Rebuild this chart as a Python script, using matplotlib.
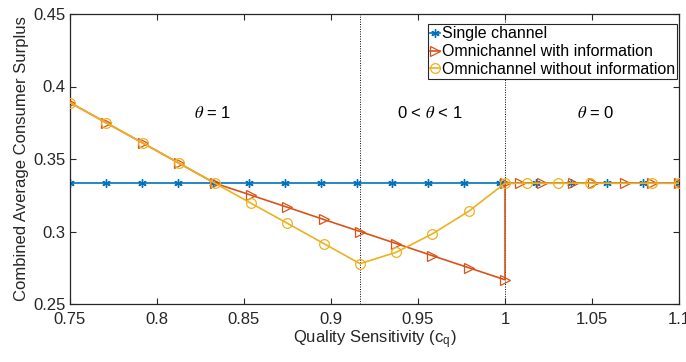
import matplotlib
matplotlib.use("Agg")
import matplotlib.pyplot as plt

plt.rcParams['font.family'] = ['Liberation Sans', 'DejaVu Sans']
plt.rcParams['mathtext.fontset'] = 'stix'

# ---- data ----
x_single = [0.75, 0.7706, 0.7912, 0.8118, 0.8324, 0.8529, 0.8735, 0.8941, 0.9147,
            0.9353, 0.9559, 0.9765, 0.9971, 1.0176, 1.0382, 1.0588, 1.0794, 1.1]
y_single = [0.3333] * 18

x_with = [0.75, 0.7708, 0.7917, 0.8125, 0.8333, 0.8542, 0.875, 0.8958, 0.9167,
          0.9375, 0.9583, 0.9792, 1.0, 1.0, 1.0086, 1.0213, 1.0391, 1.0506,
          1.069, 1.0845, 1.1]
y_with = [0.3889, 0.3750, 0.3611, 0.3472, 0.3333, 0.3250, 0.3167, 0.3083, 0.3000,
          0.2917, 0.2833, 0.2750, 0.2667, 0.3333, 0.3333, 0.3333, 0.3333, 0.3333,
          0.3333, 0.3333, 0.3333]

x_without = [0.75, 0.7708, 0.7917, 0.8125, 0.8333, 0.8542, 0.875, 0.8958, 0.9167,
             0.9375, 0.9583, 0.9792, 1.0, 1.0126, 1.0305, 1.0489, 1.0845, 1.1]
y_without = [0.3889, 0.3750, 0.3611, 0.3472, 0.3333, 0.3194, 0.3056, 0.2917, 0.2778,
             0.2857, 0.2984, 0.3140, 0.3333, 0.3333, 0.3333, 0.3333, 0.3333, 0.3333]

boundaries = [0.9167, 1.0]
region_labels = ["$\\theta$ = 1", "0 < $\\theta$ < 1", "$\\theta$ = 0"]
region_x = [0.832, 0.957, 1.052]
region_y = 0.382

x_ticks = [0.75, 0.8, 0.85, 0.9, 0.95, 1.0, 1.05, 1.1]
x_ticklabels = ["0.75", "0.8", "0.85", "0.9", "0.95", "1", "1.05", "1.1"]
y_ticks = [0.25, 0.3, 0.35, 0.4, 0.45]
y_ticklabels = ["0.25", "0.3", "0.35", "0.4", "0.45"]

c_blue = '#0072BD'
c_red = '#D95319'
c_yel = '#EDB120'
axc = '#262626'

fig = plt.figure(figsize=(6.86, 3.62), dpi=100)
ax = fig.add_axes([70/686, 1 - 304/362, 609/686, 290/362])

for b in boundaries:
    ax.axvline(b, color='k', linestyle=(0, (1, 1.5)), linewidth=0.7, zorder=1)

ax.plot(x_single, y_single, color=c_blue, marker=(6, 2, 0), markersize=6, markeredgewidth=1.0,
        linewidth=1.2, label='Single channel', zorder=2)
ax.plot(x_with, y_with, color=c_red, marker='>', markersize=7, markerfacecolor='none',
        markeredgewidth=0.9, linewidth=1.2, label='Omnichannel with information', zorder=3)
ax.plot(x_without, y_without, color=c_yel, marker='o', markersize=7, markerfacecolor='none',
        markeredgewidth=0.9, linewidth=1.2, label='Omnichannel without information', zorder=4)

for lab, xx in zip(region_labels, region_x):
    ax.text(xx, region_y, lab, ha='center', va='center', fontsize=12, color='k')

ax.set_xlim(0.75, 1.1)
ax.set_ylim(0.25, 0.45)
ax.set_xticks(x_ticks)
ax.set_xticklabels(x_ticklabels)
ax.set_yticks(y_ticks)
ax.set_yticklabels(y_ticklabels)
ax.tick_params(direction='in', top=True, right=True, length=4, width=0.8,
               labelsize=12, colors=axc, labelcolor=axc)
ax.tick_params(axis='x', pad=6)
ax.tick_params(axis='y', pad=3)
for s in ax.spines.values():
    s.set_color(axc)
    s.set_linewidth(0.9)

ax.set_xlabel("Quality Sensitivity (c$_\\mathregular{q}$)", fontsize=12, color=axc, labelpad=1)
ax.set_ylabel("Combined Average Consumer Surplus", fontsize=12, color=axc, labelpad=3)

leg = ax.legend(loc='upper right', bbox_to_anchor=(0.997, 0.966), borderaxespad=0,
                fontsize=11.5, handlelength=0.6, handletextpad=0.1, borderpad=0.15,
                labelspacing=0.18, frameon=True, fancybox=False, framealpha=1)
leg.get_frame().set_edgecolor(axc)
leg.get_frame().set_linewidth(0.8)

fig.savefig("out.png", dpi=100)
